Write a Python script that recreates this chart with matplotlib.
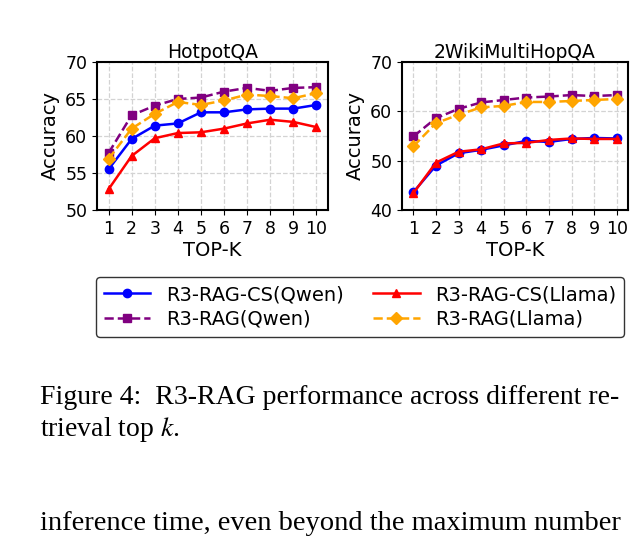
import matplotlib
matplotlib.use("Agg")
import matplotlib.pyplot as plt

TOP_K = list(range(1, 11))

HOTPOT_CS_QWEN = [55.5, 59.6, 61.4, 61.7, 63.2, 63.2, 63.6, 63.7, 63.7, 64.2]
HOTPOT_CS_LLAMA = [52.8, 57.3, 59.7, 60.4, 60.5, 61.0, 61.7, 62.2, 61.9, 61.2]
HOTPOT_QWEN = [57.7, 62.8, 64.1, 65.0, 65.2, 66.0, 66.5, 66.1, 66.5, 66.6]
HOTPOT_LLAMA = [56.9, 61.0, 63.0, 64.6, 64.2, 64.8, 65.6, 65.4, 65.1, 65.8]

WIKI_CS_QWEN = [43.6, 49.0, 51.5, 52.2, 53.1, 54.0, 53.8, 54.4, 54.6, 54.5]
WIKI_CS_LLAMA = [43.4, 49.6, 51.8, 52.3, 53.5, 53.6, 54.2, 54.5, 54.4, 54.4]
WIKI_QWEN = [54.9, 58.6, 60.5, 61.8, 62.3, 62.8, 63.0, 63.3, 63.1, 63.3]
WIKI_LLAMA = [52.9, 57.6, 59.3, 60.8, 61.1, 61.9, 61.9, 62.1, 62.3, 62.5]

plt.rcParams["mathtext.fontset"] = "stix"

W, H = 644, 544
fig = plt.figure(figsize=(W / 100, H / 100), dpi=100)


def box(x0, y0, x1, y1):
    return [x0 / W, 1 - y1 / H, (x1 - x0) / W, (y1 - y0) / H]


def draw(ax, title, cs_qwen, cs_llama, qwen, llama, ylim, yticks):
    ax.plot(TOP_K, cs_qwen, color="blue", marker="o", markersize=6, lw=1.8, label="R3-RAG-CS(Qwen)")
    ax.plot(TOP_K, cs_llama, color="red", marker="^", markersize=6, lw=1.8, label="R3-RAG-CS(Llama)")
    ax.plot(TOP_K, qwen, color="purple", marker="s", markersize=6, lw=1.8, ls="--", label="R3-RAG(Qwen)")
    ax.plot(TOP_K, llama, color="orange", marker="D", markersize=6, lw=1.8, ls="--", label="R3-RAG(Llama)")
    ax.set_title(title, fontsize=13.5, pad=3)
    ax.set_xlabel("TOP-K", fontsize=14, labelpad=2)
    ax.set_ylabel("Accuracy", fontsize=14)
    ax.set_ylim(*ylim)
    ax.set_yticks(yticks)
    ax.set_xticks(TOP_K)
    ax.set_xlim(0.5, 10.5)
    ax.tick_params(labelsize=12.5)
    ax.grid(True, ls="--", color="lightgray", lw=0.9)
    for s in ax.spines.values():
        s.set_linewidth(1.5)


ax1 = fig.add_axes(box(97, 62, 328, 210))
draw(ax1, "HotpotQA", HOTPOT_CS_QWEN, HOTPOT_CS_LLAMA, HOTPOT_QWEN, HOTPOT_LLAMA, (50, 70), [50, 55, 60, 65, 70])
ax2 = fig.add_axes(box(402, 62, 628, 210))
draw(ax2, "2WikiMultiHopQA", WIKI_CS_QWEN, WIKI_CS_LLAMA, WIKI_QWEN, WIKI_LLAMA, (40, 70), [40, 50, 60, 70])

handles, labels = ax1.get_legend_handles_labels()
fig.legend([handles[i] for i in [0, 2, 1, 3]], [labels[i] for i in [0, 2, 1, 3]], ncol=2,
           loc="center", bbox_to_anchor=(360 / W, 1 - 307 / H), fontsize=14,
           frameon=True, edgecolor="black", fancybox=True, columnspacing=1.5,
           handlelength=2.4, labelspacing=0.3)

serif = ["Liberation Serif", "DejaVu Serif"]
fig.text(40 / W, 1 - 398 / H, "Figure 4:  R3-RAG performance across different re-", fontsize=20, family=serif, va="center")
fig.text(40 / W, 1 - 430 / H, "trieval top $k$.", fontsize=20, family=serif, va="center")
fig.text(40 / W, 1 - 523 / H, "inference time, even beyond the maximum number", fontsize=20.5, family=serif, va="center")

fig.savefig("out.png", dpi=100)
